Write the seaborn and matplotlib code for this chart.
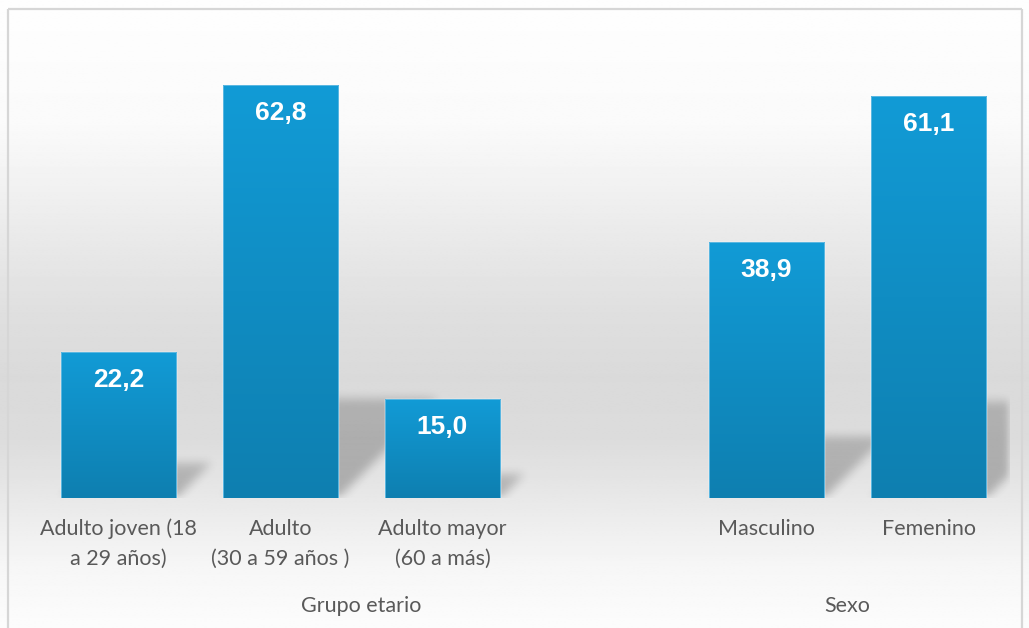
import numpy as np
import pandas as pd
import matplotlib
matplotlib.use("Agg")
import matplotlib.pyplot as plt
from matplotlib.colors import LinearSegmentedColormap
from matplotlib.transforms import blended_transform_factory
import seaborn as sns

# ---- data -------------------------------------------------------------
categories = [
    "Adulto joven (18\na 29 años)",
    "Adulto\n(30 a 59 años )",
    "Adulto mayor\n(60 a más)",
    "Masculino",
    "Femenino",
]
groups = ["Grupo etario", "Grupo etario", "Grupo etario", "Sexo", "Sexo"]
values = [22.2, 62.8, 15.0, 38.9, 61.1]
value_labels = ["22,2", "62,8", "15,0", "38,9", "61,1"]

# slot positions: one empty slot separates the two groups
positions = []
slot = 0
for i, g in enumerate(groups):
    if i > 0 and g != groups[i - 1]:
        slot += 1
    positions.append(slot)
    slot += 1

df = pd.DataFrame({"pos": positions, "valor": values, "cat": categories, "grupo": groups})

sns.set_theme(style="white")
plt.rcParams["font.family"] = ["Lato", "DejaVu Sans"]

W, H, DPI = 1029, 628, 100
fig = plt.figure(figsize=(W / DPI, H / DPI), dpi=DPI)

# ---- soft vertical background gradient + frame -------------------------
bg = fig.add_axes([0, 0, 1, 1], zorder=-10)
stops_y = [0.0, 0.2, 0.35, 0.5, 0.6, 0.7, 0.8, 0.9, 1.0]
stops_v = [254, 250, 236, 223, 218, 220, 233, 246, 252]
yy = np.linspace(0, 1, 400)
shade = np.interp(yy, stops_y, stops_v) / 255.0
bg.imshow(np.repeat(shade[:, None], 2, axis=1), cmap="gray", vmin=0, vmax=1,
          aspect="auto", extent=[0, 1, 1, 0], interpolation="bilinear")
bg.set_xlim(0, 1)
bg.set_ylim(1, 0)
bg.axis("off")
fx = lambda px: px / W
fy = lambda py: py / H
frame_kw = dict(color="#d6d6d6", lw=1.6, solid_capstyle="butt")
bg.plot([fx(7.5), fx(7.5)], [fy(8.5), 1.02], **frame_kw)
bg.plot([fx(7.5), fx(1021.5)], [fy(8.5), fy(8.5)], **frame_kw)
bg.plot([fx(1021.5), fx(1021.5)], [fy(8.5), 1.02], **frame_kw)

# ---- main axes --------------------------------------------------------
ax_left, ax_right = 37.5, 1009.5
ax_bottom_px, ax_top_px = 498, 37.4
ax = fig.add_axes([fx(ax_left), 1 - fy(ax_bottom_px),
                   fx(ax_right - ax_left), fy(ax_bottom_px - ax_top_px)])
ax.set_facecolor("none")

sns.barplot(data=df, x="pos", y="valor", native_scale=True, width=0.71,
            color="#1290c8", saturation=1, ax=ax, zorder=2, errorbar=None)

ax.set_xlim(-0.5, slot - 0.5)
ax.set_ylim(0, 70)
for s in ax.spines.values():
    s.set_visible(False)
ax.set_yticks([])
ax.set_xlabel("")
ax.set_ylabel("")
ax.set_xticks(positions)
ax.set_xticklabels(categories, fontsize=15.5, color="#595959", linespacing=1.62)
ax.tick_params(axis="x", length=0, pad=15)

# ---- bar gradients ----------------------------------------------------
bar_cmap = LinearSegmentedColormap.from_list("barfill", ["#0e7fb0", "#129bd6"])
grad = np.linspace(0, 1, 256)[:, None]
bars = [p for p in ax.patches]
for p in bars:
    x0, y0 = p.get_x(), p.get_y()
    w, h = p.get_width(), p.get_height()
    im = ax.imshow(grad, cmap=bar_cmap, aspect="auto", origin="lower",
                   extent=[x0, x0 + w, y0, y0 + h], zorder=2.1,
                   interpolation="bilinear")
    im.set_clip_path(p)
    outline = plt.Rectangle((x0, y0), w, h, fill=False, ec="#5db8e2", lw=0.7, zorder=2.2)
    ax.add_patch(outline)

# ---- soft diagonal shadows behind the bars ----------------------------
ppu_x = (ax_right - ax_left) / (slot)          # pixels per x unit
ppu_y = (ax_bottom_px - ax_top_px) / 70.0      # pixels per y unit
nx = int(ax_right - ax_left)
ny = 140
xs = np.linspace(-0.5, slot - 0.5, nx)
ys_px = np.arange(ny)[:, None] + 0.5
mask = np.zeros((ny, nx))
for p in bars:
    x0, w, h = p.get_x(), p.get_width(), p.get_height()
    hs = 0.24 * h * ppu_y                     # shadow height in px
    shift = (ys_px * 1.0) / ppu_x             # rightward lean per px of height
    inside = (ys_px <= hs) & (xs[None, :] >= x0 + shift) & (xs[None, :] <= x0 + w + shift)
    fade = np.clip(1.0 - 0.25 * ys_px / max(hs, 1), 0, 1)
    mask = np.maximum(mask, inside * fade)


def box_blur(a, r, axis):
    k = np.ones(2 * r + 1) / (2 * r + 1)
    return np.apply_along_axis(lambda v: np.convolve(v, k, mode="same"), axis, a)


for _ in range(3):
    mask = box_blur(mask, 4, 0)
    mask = box_blur(mask, 4, 1)
rgba = np.zeros((ny, nx, 4))
rgba[..., 3] = 0.25 * mask
ax.imshow(rgba, origin="lower", aspect="auto", zorder=1,
          extent=[-0.5, slot - 0.5, 0, ny / ppu_y], interpolation="bilinear")
ax.set_xlim(-0.5, slot - 0.5)
ax.set_ylim(0, 70)

# ---- value labels -----------------------------------------------------
for x, v, lab in zip(positions, values, value_labels):
    ax.annotate(lab, (x, v), xytext=(0, -20), textcoords="offset points",
                ha="center", va="center", color="white", fontsize=19,
                fontweight="bold", family=["Liberation Sans", "DejaVu Sans"], zorder=3)

# ---- group labels -----------------------------------------------------
tr = blended_transform_factory(ax.transData, fig.transFigure)
seen = []
for g in groups:
    if g in seen:
        continue
    seen.append(g)
    idx = [i for i, gg in enumerate(groups) if gg == g]
    lo = positions[idx[0]]
    hi = positions[idx[-1]]
    # group span includes the spacer slot that follows it
    if idx[-1] + 1 < len(groups):
        hi += 1
    ax.text((lo + hi) / 2, 1 - fy(606), g, transform=tr, ha="center", va="center",
            fontsize=15.5, color="#595959")

fig.savefig("out.png", dpi=DPI)
